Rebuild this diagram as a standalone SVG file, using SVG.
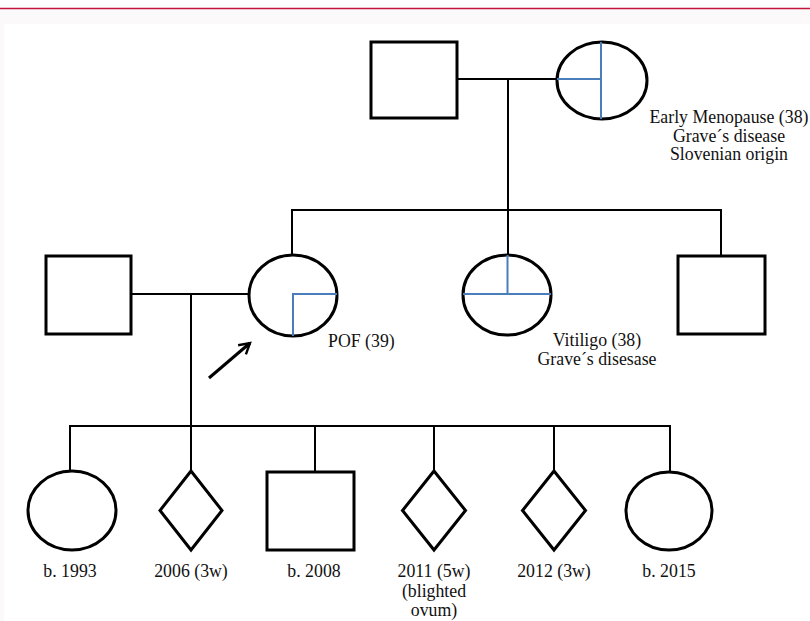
<svg xmlns="http://www.w3.org/2000/svg" width="810" height="621" viewBox="0 0 810 621">
<style>
.shape{fill:#fff;stroke:#000;stroke-width:3}
.line{fill:none;stroke:#000;stroke-width:2}
.blue{fill:none;stroke:#4a7ebb;stroke-width:2}
text{font-family:"Liberation Serif","Times New Roman",serif;font-size:17.8px;fill:#111;text-anchor:middle}
</style>
<defs>
<marker id="arr" viewBox="0 0 10 10" refX="8" refY="5" markerWidth="5" markerHeight="5" orient="auto" markerUnits="strokeWidth">
<path d="M1,1 L8,5 L1,9" fill="none" stroke="#000" stroke-width="1.6"/>
</marker>
</defs>
<rect x="0" y="0" width="810" height="621" fill="#fbf9f9"/>
<rect x="0" y="0" width="810" height="8" fill="#fff"/>
<line x1="0" y1="8.5" x2="810" y2="8.5" stroke="#c4153f" stroke-width="1.5"/>
<rect x="4" y="24" width="806" height="597" fill="#fff"/>
<g id="connectors">
<path class="line" d="M457,79 H557"/>
<path class="line" d="M508,79 V210"/>
<path class="line" d="M292,255 V210 H721 V256"/>
<path class="line" d="M508,210 V255"/>
<path class="line" d="M131,294 H249"/>
<path class="line" d="M191,294 V426"/>
<path class="line" d="M70,471 V426 H670 V472"/>
<path class="line" d="M191,426 V471"/>
<path class="line" d="M315,426 V472"/>
<path class="line" d="M434,426 V471"/>
<path class="line" d="M554,426 V471"/>
<path d="M209,378 L250,343" fill="none" stroke="#000" stroke-width="3" marker-end="url(#arr)"/>
</g>
<g id="grandfather"><rect class="shape" x="371" y="42" width="86" height="76"/></g>
<g id="grandmother">
<ellipse class="shape" cx="602" cy="80.5" rx="45" ry="38.5"/>
<path class="blue" d="M601,42 V119 M557,79 H601"/>
<text x="729" y="123">Early Menopause (38)</text>
<text x="729" y="141.5">Grave´s disease</text>
<text x="729" y="160">Slovenian origin</text>
</g>
<g id="husband"><rect class="shape" x="46" y="256" width="85" height="78"/></g>
<g id="proband">
<ellipse class="shape" cx="293" cy="295.5" rx="44" ry="40.5"/>
<path class="blue" d="M293,336 V294 H337"/>
<text x="328" y="347" style="text-anchor:start">POF (39)</text>
</g>
<g id="sister">
<ellipse class="shape" cx="507" cy="295" rx="44" ry="40"/>
<path class="blue" d="M507.5,255 V294 M463,294 H551"/>
<text x="597" y="346">Vitiligo (38)</text>
<text x="597" y="365">Grave´s disesase</text>
</g>
<g id="brother"><rect class="shape" x="678" y="256" width="87" height="78"/></g>
<g id="child1">
<ellipse class="shape" cx="72" cy="510.5" rx="44" ry="39.5"/>
<text x="70" y="577">b. 1993</text>
</g>
<g id="child2">
<path class="shape" d="M191,471 L222,510.5 L191,550 L160,510.5 Z"/>
<text x="191" y="577">2006 (3w)</text>
</g>
<g id="child3">
<rect class="shape" x="267" y="472" width="87" height="78"/>
<text x="314" y="577">b. 2008</text>
</g>
<g id="child4">
<path class="shape" d="M434,471 L465.5,510.5 L434,550 L402.5,510.5 Z"/>
<text x="434" y="577">2011 (5w)</text>
<text x="434" y="597">(blighted</text>
<text x="434" y="616">ovum)</text>
</g>
<g id="child5">
<path class="shape" d="M554,471 L585.5,510.5 L554,550 L522.5,510.5 Z"/>
<text x="554" y="577">2012 (3w)</text>
</g>
<g id="child6">
<ellipse class="shape" cx="669" cy="511" rx="43" ry="39"/>
<text x="669" y="577">b. 2015</text>
</g>
</svg>
